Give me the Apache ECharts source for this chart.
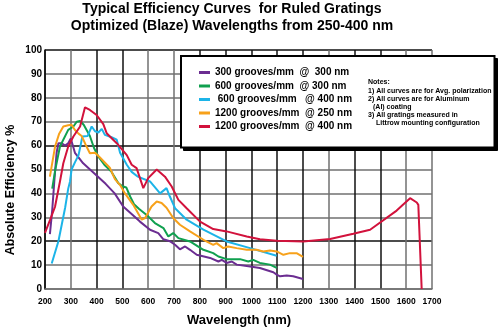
<!DOCTYPE html>
<html>
<head>
<meta charset="utf-8">
<script src="https://cdn.jsdelivr.net/npm/echarts@6/dist/echarts.min.js"></script>
<style>
html,body{margin:0;padding:0;background:#fff;}
#chart{width:502px;height:329px;}
</style>
</head>
<body>
<div id="chart"></div>
<script>
// ---- data ----
const seriesNames = [
  '300 grooves/mm  @  300 nm',
  '600 grooves/mm  @ 300 nm',
  ' 600 grooves/mm   @ 400 nm',
  '1200 grooves/mm  @ 250 nm',
  '1200 grooves/mm  @ 400 nm'
];
const seriesColors = ['#6b2d91', '#10a04f', '#1cb4e8', '#f7a11a', '#d2123c'];

const wl300at300 = [219,228,236,245,252,265,278,290,300,316,348,400,435,470,503,540,568,607,639,659,684,704,723,743,762,788,840,872,885,904,924,943,995,1033,1085,1098,1111,1137,1162,1200];
const eff300at300 = [23,33,45,57,61,61,60,61,63,57,52.6,47.5,44,40,34.5,31,28.2,24.8,23.4,20.8,20,18.5,16.6,17.8,16.4,14.3,13,11.5,12.2,10.9,11.5,10.2,9.4,8.8,7,6,5.3,5.6,5.3,4.2];

const wl600at300 = [228,240,258,290,310,323,336,350,374,390,407,430,458,484,500,515,530,545,565,594,626,659,678,697,717,762,814,852,872,904,956,988,1007,1033,1072,1098];
const eff600at300 = [42,50,59.6,66.6,68,70,70.3,68.7,64,59,55.4,52,49,44.3,43,42.5,38.7,35.5,33.5,31,27.6,25.5,22,23.4,21.3,19.9,16.4,15,13.6,12.5,12.5,11.5,12.2,10.9,10.2,8.8];

const wl600at400 = [226,252,265,278,290,297,303,316,330,345,365,381,394,407,420,432,458,478,491,517,536,560,607,646,671,684,704,749,814,904,995,1098];
const eff600at400 = [10.7,20,27,34,42,45,50,53,56,63.8,64,68,66,65.5,67,64.5,63.5,62.5,57,52,49,47,45,40,42.2,38.7,33.8,29,24.8,19.9,17.1,13.9];

const wl1200at250 = [219,239,255,271,290,303,316,330,342,361,374,381,394,413,452,471,491,510,542,575,588,613,633,652,671,697,723,762,814,852,865,891,910,943,982,1020,1046,1072,1098,1124,1149,1175,1200];
const eff1200at250 = [47,59.6,65,68,68.5,68.7,66.5,65,64,59.6,56.8,56,57,55,50.6,46,43.5,40,35.2,29,29.7,34.5,36.6,36,34,29.7,26.9,24.1,20.6,18.5,19.2,17.1,17.8,17.1,16.4,16.4,15.7,16.1,15.7,14.3,15,15,13.4];

const wl1200at400 = [200,220,239,258,271,290,310,336,355,374,400,426,439,478,517,536,555,581,600,633,665,691,717,749,801,852,904,982,1033,1098,1201,1305,1395,1460,1563,1615,1641,1647,1660];
const eff1200at400 = [23.5,29,34.5,45,52.6,59.6,63.8,68,76,74.9,72.8,69,65.2,61,56,52,50.6,42.2,46.4,50,47,42.9,37.3,33.8,28.2,25.1,24.1,22,20.8,20.2,19.9,20.9,23.1,24.8,32.8,38,36.2,35.2,0];

const wlLists = [wl300at300, wl600at300, wl600at400, wl1200at250, wl1200at400];
const effLists = [eff300at300, eff600at300, eff600at400, eff1200at250, eff1200at400];

const titleLines = ['Typical Efficiency Curves  for Ruled Gratings', 'Optimized (Blaze) Wavelengths from 250-400 nm'];
const notesLines = ['Notes:', '1) All curves are for Avg. polarization', '2) All curves are for Aluminum', '(Al) coating', '3) All gratings measured in', 'Littrow mounting configuration'];

// ---- build chart ----
const FF = '"Liberation Sans", Arial, Helvetica, sans-serif';
const chart = echarts.init(document.getElementById('chart'), null, {renderer: 'canvas'});

const series = seriesNames.map((name, i) => ({
  name: name,
  type: 'line',
  showSymbol: false,
  symbol: 'none',
  smooth: false,
  color: seriesColors[i],
  lineStyle: {width: 2, color: seriesColors[i]},
  data: wlLists[i].map((w, j) => [w, effLists[i][j]]),
  z: 2
}));

const G = '#707070', K = '#111';
const noteX = [368, 368, 368, 373, 368, 376];
const noteY = [82.5, 90.7, 98.9, 107.1, 115.3, 123.5];

const option = {
  animation: false,
  backgroundColor: '#fff',
  grid: {left: 45, right: 70, top: 50, bottom: 40, containLabel: false, outerBoundsMode: 'none'},
  xAxis: {
    type: 'value', min: 200, max: 1700, interval: 100,
    axisLine: {show: true, onZero: false, lineStyle: {color: G, width: 1.5}},
    axisTick: {show: false},
    axisLabel: {color: '#000', fontFamily: FF, fontWeight: 'bold', fontSize: 8.5, margin: 8, formatter: v => String(v)},
    splitLine: {show: true, lineStyle: {width: 1.5, color: [K, G, K, K, G, G, K, K, K, K, K, G, K, K, G, G]}}
  },
  yAxis: {
    type: 'value', min: 0, max: 100, interval: 10,
    axisLine: {show: true, onZero: false, lineStyle: {color: K, width: 1.5}},
    axisTick: {show: false},
    axisLabel: {color: '#000', fontFamily: FF, fontWeight: 'bold', fontSize: 10, margin: 3, formatter: v => String(v)},
    splitLine: {show: true, lineStyle: {width: 1.5, color: [G, G, K, G, G, G, K, G, G, G, K]}}
  },
  legend: {
    show: true, orient: 'vertical', left: 199, top: 66.5,
    itemWidth: 11, itemHeight: 3, itemGap: 1.5, icon: 'rect',
    padding: 0, z: 20,
    textStyle: {color: '#000', fontFamily: FF, fontWeight: 'bold', fontSize: 10, lineHeight: 12},
    data: seriesNames
  },
  graphic: [
    {type: 'text', x: 232, y: 9.5, z: 10, style: {text: titleLines[0], align: 'center', verticalAlign: 'middle', font: 'bold 14px ' + FF, fill: '#000'}},
    {type: 'text', x: 232, y: 26, z: 10, style: {text: titleLines[1], align: 'center', verticalAlign: 'middle', font: 'bold 14px ' + FF, fill: '#000'}},
    {type: 'text', x: 239, y: 320.5, z: 10, style: {text: 'Wavelength (nm)', align: 'center', verticalAlign: 'middle', font: 'bold 13px ' + FF, fill: '#000'}},
    {type: 'text', x: 10.5, y: 190, rotation: Math.PI / 2, z: 10, style: {text: 'Absolute Efficiency %', align: 'center', verticalAlign: 'middle', font: 'bold 12.5px ' + FF, fill: '#000'}},
    {type: 'rect', z: 5, shape: {x: 183.5, y: 58.5, width: 314, height: 92}, style: {fill: '#000', stroke: '#000', lineWidth: 1}},
    {type: 'rect', z: 6, shape: {x: 181, y: 56, width: 313.5, height: 91.5}, style: {fill: '#fff', stroke: '#000', lineWidth: 2}}
  ].concat(notesLines.map((t, i) => ({
    type: 'text', x: noteX[i], y: noteY[i], z: 10,
    style: {text: t, align: 'left', verticalAlign: 'middle', font: 'bold 7px ' + FF, fill: '#000'}
  }))),
  series: series
};
chart.setOption(option);
</script>
</body>
</html>
